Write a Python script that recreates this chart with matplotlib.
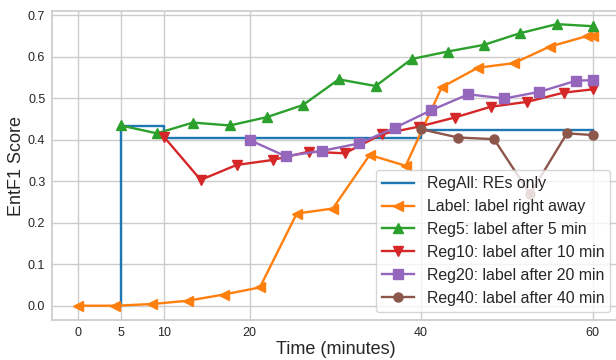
import matplotlib
matplotlib.use("Agg")
import matplotlib.pyplot as plt

# ---- data ----
regall_t = [5, 5, 10, 40, 60]
regall_v = [0.0, 0.433, 0.404, 0.423, 0.423]

label_t = [0, 4.3, 8.6, 12.8, 17.0, 21.2, 25.5, 29.7, 34.0, 38.2, 42.4, 46.6, 50.8, 55.0, 59.3, 60]
label_v = [0.0, 0.0, 0.004, 0.012, 0.027, 0.044, 0.222, 0.234, 0.363, 0.337, 0.526, 0.573, 0.584, 0.624, 0.649, 0.649]

reg5_t = [5.0, 9.2, 13.4, 17.7, 22.0, 26.2, 30.4, 34.7, 38.9, 43.1, 47.3, 51.5, 55.8, 60]
reg5_v = [0.434, 0.415, 0.441, 0.434, 0.454, 0.483, 0.545, 0.529, 0.594, 0.612, 0.628, 0.656, 0.678, 0.673]

reg10_t = [10.0, 14.3, 18.5, 22.7, 26.9, 31.1, 35.4, 39.7, 43.9, 48.1, 52.4, 56.6, 60]
reg10_v = [0.407, 0.303, 0.339, 0.351, 0.371, 0.367, 0.413, 0.431, 0.453, 0.479, 0.491, 0.513, 0.521]

reg20_t = [20.0, 24.2, 28.5, 32.8, 37.0, 41.2, 45.5, 49.7, 53.8, 58.1, 60]
reg20_v = [0.399, 0.360, 0.373, 0.391, 0.429, 0.471, 0.509, 0.499, 0.515, 0.542, 0.543]

reg40_t = [40.0, 44.3, 48.5, 52.7, 57.0, 60]
reg40_v = [0.425, 0.405, 0.401, 0.269, 0.415, 0.411]

labels = ["RegAll: REs only", "Label: label right away", "Reg5: label after 5 min",
          "Reg10: label after 10 min", "Reg20: label after 20 min", "Reg40: label after 40 min"]
xticks = [0, 5, 10, 20, 40, 60]
yticks = [0.0, 0.1, 0.2, 0.3, 0.4, 0.5, 0.6, 0.7]

plt.rcParams['font.family'] = ['Liberation Sans', 'DejaVu Sans']

fig = plt.figure(figsize=(6.16, 3.6), dpi=100)
ax = fig.add_axes([0.0849, 0.1111, 1.0039 - 0.0849, 0.9694 - 0.1111])

lw = 1.7
ms = 6.5
ax.plot(regall_t, regall_v, drawstyle='steps-post', color='#1f77b4', lw=lw, label=labels[0])
ax.plot(label_t, label_v, marker='<', color='#ff7f0e', lw=lw, ms=ms, label=labels[1])
ax.plot(reg5_t, reg5_v, marker='^', color='#2ca02c', lw=lw, ms=ms, label=labels[2])
ax.plot(reg10_t, reg10_v, marker='v', color='#d62728', lw=lw, ms=ms, label=labels[3])
ax.plot(reg20_t, reg20_v, marker='s', color='#9467bd', lw=lw, ms=ms, label=labels[4])
ax.plot(reg40_t, reg40_v, marker='o', color='#8c564b', lw=lw, ms=ms, label=labels[5])

ax.set_xlim(-3, 63)
ax.set_ylim(-0.0344, 0.7096)
ax.set_xticks(xticks)
ax.set_yticks(yticks)
ax.set_yticklabels([f"{v:.1f}" for v in yticks])
ax.grid(True, color='#cccccc', lw=1.0)
ax.set_axisbelow(True)
for s in ax.spines.values():
    s.set_color('#cccccc')
    s.set_linewidth(1.25)
ax.tick_params(axis='both', length=0, labelsize=9, pad=5, labelcolor='#262626')
ax.set_xlabel("Time (minutes)", fontsize=13, color='#262626', labelpad=1.5)
ax.set_ylabel("EntF1 Score", fontsize=13, color='#262626', labelpad=2.5)

leg = ax.legend(loc='lower right', fontsize=11.4, framealpha=0.8, edgecolor='#cccccc')
for t in leg.get_texts():
    t.set_color('#262626')

fig.savefig("out.png", dpi=100)
